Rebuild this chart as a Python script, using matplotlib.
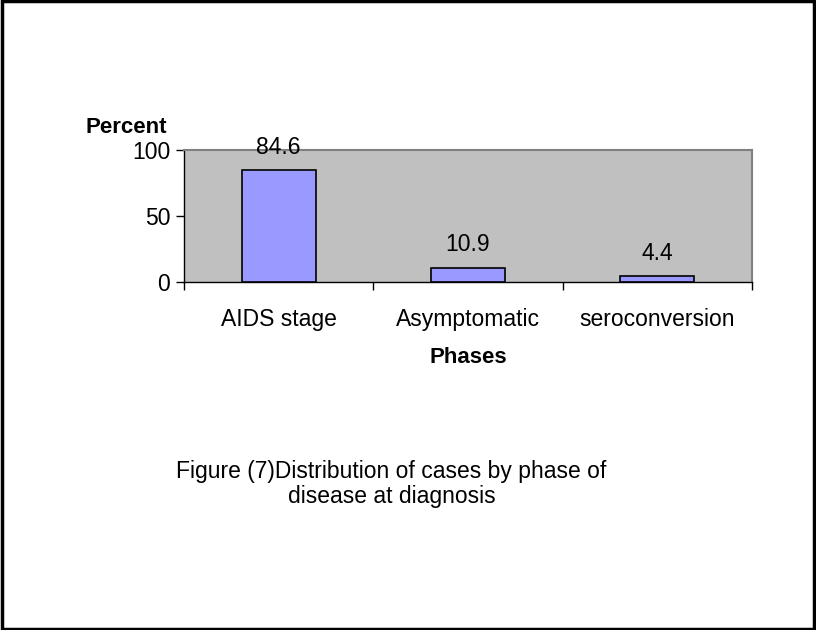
import matplotlib.pyplot as plt
from matplotlib.patches import Rectangle

# data
phases = ['AIDS stage', 'Asymptomatic', 'seroconversion']
percent = [84.6, 10.9, 4.4]
y_ticks = [0, 50, 100]

plt.rcParams['font.family'] = ['Liberation Sans', 'DejaVu Sans']

fig = plt.figure(figsize=(8.16, 6.30), dpi=100)
ax = fig.add_axes([0.2255, 0.5524, 0.696, 0.2095])

ax.set_facecolor('#C0C0C0')
x = range(len(phases))
ax.bar(x, percent, width=0.39, color='#9999FF', edgecolor='black', linewidth=1.2, zorder=3)

for xi, v in zip(x, percent):
    ax.annotate(f'{v}', (xi, v), xytext=(0, 8), textcoords='offset points',
                ha='center', va='bottom', fontsize=16.5)

ax.set_xlim(-0.5, len(phases) - 0.5)
ax.set_ylim(0, 100)
ax.set_yticks(y_ticks)
ax.set_xticks([i + 0.5 for i in range(-1, len(phases))], minor=False)
ax.set_xticklabels([])
ax.set_xticks(list(x), minor=True)
ax.set_xticklabels(phases, minor=True, fontsize=16.5)
ax.tick_params(axis='x', which='minor', length=0, pad=19)
ax.tick_params(axis='x', which='major', direction='out', length=6, width=1)
ax.tick_params(axis='y', direction='out', length=6, width=1, labelsize=16.5, pad=4)

for side in ['top', 'right']:
    ax.spines[side].set_color('#808080')
    ax.spines[side].set_linewidth(1.5)
for side in ['left', 'bottom']:
    ax.spines[side].set_color('black')
    ax.spines[side].set_linewidth(1)

ax.set_xlabel('Phases', fontsize=16, fontweight='bold', labelpad=11)
fig.text(0.105, 0.798, 'Percent', fontsize=16, fontweight='bold', ha='left', va='center')

fig.text(0.48, 0.232, 'Figure (7)Distribution of cases by phase of\ndisease at diagnosis',
         fontsize=16.5, ha='center', va='center', linespacing=1.1)

# outer frame
fig.patches.append(Rectangle((0.002, 0.002), 0.995, 0.996, transform=fig.transFigure,
                             fill=False, edgecolor='black', linewidth=2.5))

fig.savefig('out.png', dpi=100)
